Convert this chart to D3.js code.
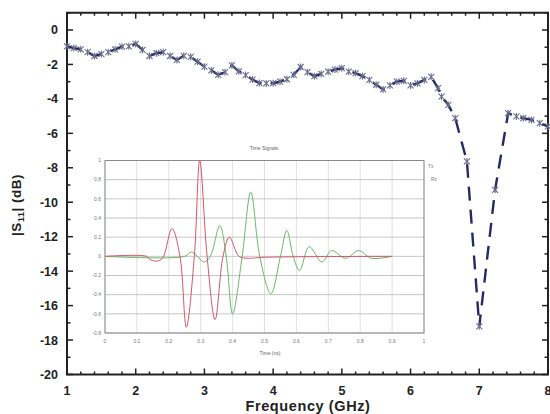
<!DOCTYPE html>
<html>
<head>
<meta charset="utf-8">
<script src="https://cdn.jsdelivr.net/npm/d3@7"></script>
<style>
  body { margin: 0; background: #fff; }
  svg { display: block; font-family: "Liberation Sans", Arial, sans-serif; }
</style>
</head>
<body>
<svg id="chart" width="550" height="414"></svg>
<script>
// main curve: |S11| vs frequency
const freq = [1.0, 1.1, 1.2, 1.3, 1.4, 1.5, 1.6, 1.7, 1.8, 1.9, 2.0, 2.1, 2.2, 2.3, 2.4, 2.5,
  2.6, 2.7, 2.8, 2.9, 3.0, 3.1, 3.2, 3.3, 3.4, 3.5, 3.6, 3.7, 3.8, 3.9, 4.0, 4.1, 4.2, 4.3,
  4.4, 4.5, 4.6, 4.7, 4.8, 4.9, 5.0, 5.1, 5.2, 5.3, 5.4, 5.5, 5.6, 5.7, 5.8, 5.9, 6.0, 6.1,
  6.2, 6.3, 6.4, 6.45, 6.55, 6.65, 6.82, 7.0, 7.23, 7.42, 7.54, 7.64, 7.76, 7.88, 8.0];
const s11 = [-0.95, -1.05, -1.12, -1.29, -1.51, -1.40, -1.29, -1.12, -0.97, -0.95, -0.81, -1.16,
  -1.51, -1.35, -1.29, -1.51, -1.74, -1.50, -1.56, -1.84, -2.13, -2.35, -2.60, -2.45, -2.05,
  -2.40, -2.62, -2.88, -3.08, -3.10, -3.09, -3.00, -2.86, -2.60, -2.15, -2.45, -2.68, -2.55,
  -2.42, -2.30, -2.22, -2.42, -2.50, -2.68, -2.90, -3.18, -3.45, -3.22, -3.00, -2.95, -3.22,
  -3.10, -2.90, -2.72, -3.38, -3.87, -4.35, -5.12, -7.63, -17.2, -9.28, -4.83, -5.02, -5.12,
  -5.22, -5.41, -5.60];

// inset: time signals (normalised)
const txTime = [0, 0.13, 0.14, 0.16, 0.18, 0.21, 0.235, 0.255, 0.28, 0.297, 0.32, 0.345, 0.37,
  0.39, 0.42, 0.45, 0.5, 0.9];
const txAmp = [0, 0, -0.03, -0.05, -0.02, 0.29, 0, -0.74, 0, 1.0, 0, -0.66, 0, 0.2, 0, -0.02,
  -0.01, 0];
const rxTime = [0, 0.25, 0.27, 0.29, 0.31, 0.33, 0.36, 0.38, 0.40, 0.43, 0.457, 0.485, 0.52,
  0.55, 0.57, 0.59, 0.61, 0.64, 0.68, 0.71, 0.755, 0.795, 0.835, 0.9];
const rxAmp = [0, 0, 0.045, 0, -0.06, 0, 0.32, 0, -0.6, 0, 0.67, 0, -0.39, 0, 0.27, 0, -0.15,
  0.1, -0.06, 0.06, -0.02, 0.06, -0.02, 0];

const insetYTicks = [1, 0.8, 0.6, 0.4, 0.2, 0, -0.2, -0.4, -0.6, -0.8];
const insetXTicks = [0, 0.1, 0.2, 0.3, 0.4, 0.5, 0.6, 0.7, 0.8, 0.9, 1];

const svg = d3.select("#chart");
const m = {left: 67, right: 548, top: 12.75, bottom: 374.5};

const x = d3.scaleLinear([1, 8], [m.left, m.right]);
const y = d3.scaleLinear([-20, 1], [m.bottom, m.top]);

// ---- inset
const ins = {left: 105, right: 424, top: 160.5, bottom: 333};
const ix = d3.scaleLinear([0, 1], [ins.left, ins.right]);
const iy = d3.scaleLinear([-0.8, 1], [ins.bottom, ins.top]);
const gi = svg.append("g");

gi.append("rect")
  .attr("x", ins.left).attr("y", ins.top)
  .attr("width", ins.right - ins.left).attr("height", ins.bottom - ins.top)
  .attr("fill", "#fff");

gi.append("g").selectAll("line")
  .data(insetXTicks)
  .join("line")
  .attr("x1", d => ix(d)).attr("x2", d => ix(d))
  .attr("y1", ins.top).attr("y2", ins.bottom)
  .attr("stroke", (d, i) => i % 2 ? "#e6cfd2" : "#d3ddd3")
  .attr("stroke-width", 0.8);

gi.append("g").selectAll("line")
  .data(insetYTicks)
  .join("line")
  .attr("x1", ins.left).attr("x2", ins.right)
  .attr("y1", d => iy(d)).attr("y2", d => iy(d))
  .attr("stroke", "#b8b8b8")
  .attr("stroke-width", 0.8);

gi.append("rect")
  .attr("x", ins.left).attr("y", ins.top)
  .attr("width", ins.right - ins.left).attr("height", ins.bottom - ins.top)
  .attr("fill", "none").attr("stroke", "#8a8a8a").attr("stroke-width", 1);

const iline = d3.line().x(d => ix(d[0])).y(d => iy(d[1])).curve(d3.curveCatmullRom);

gi.append("path")
  .datum(d3.zip(rxTime, rxAmp))
  .attr("d", iline)
  .attr("fill", "none").attr("stroke", "#6ab86a").attr("stroke-width", 1);

gi.append("path")
  .datum(d3.zip(txTime, txAmp))
  .attr("d", iline)
  .attr("fill", "none").attr("stroke", "#d4566a").attr("stroke-width", 1);

gi.append("g").selectAll("text")
  .data(insetYTicks)
  .join("text")
  .attr("x", ins.left - 4).attr("y", d => iy(d) + 1.8)
  .attr("text-anchor", "end")
  .attr("font-size", 5).attr("fill", "#777")
  .text(d => d);

gi.append("g").selectAll("text")
  .data(insetXTicks)
  .join("text")
  .attr("x", d => ix(d)).attr("y", ins.bottom + 10)
  .attr("text-anchor", "middle")
  .attr("font-size", 5).attr("fill", "#777")
  .text(d => d);

gi.append("text")
  .attr("x", 264).attr("y", 150)
  .attr("text-anchor", "middle").attr("font-size", 5).attr("fill", "#666")
  .text("Time Signals");

gi.append("text")
  .attr("x", 270).attr("y", 355)
  .attr("text-anchor", "middle").attr("font-size", 5).attr("fill", "#666")
  .text("Time (ns)");

gi.append("text").attr("x", 428).attr("y", 168).attr("font-size", 5).attr("fill", "#777")
  .text("Tx");
gi.append("text").attr("x", 431).attr("y", 181).attr("font-size", 5).attr("fill", "#777")
  .text("Rx");

// ---- main frame and ticks
const gf = svg.append("g");
gf.append("rect")
  .attr("x", m.left).attr("y", m.top)
  .attr("width", m.right - m.left).attr("height", m.bottom - m.top)
  .attr("fill", "none").attr("stroke", "#222").attr("stroke-width", 2);

const xMinor = d3.range(1, 8.001, 0.2);
const yMinor = d3.range(-20, 1.001, 1);

// bottom & top ticks (inward)
[[m.bottom, -1], [m.top, 1]].forEach(([yy, dir]) => {
  gf.append("g").selectAll("line")
    .data(xMinor)
    .join("line")
    .attr("x1", d => x(d)).attr("x2", d => x(d))
    .attr("y1", yy)
    .attr("y2", d => yy + dir * (Math.abs(d - Math.round(d)) < 1e-6 ? 6 : 3))
    .attr("stroke", "#222").attr("stroke-width", 1.5);
});

// left & right ticks (inward)
[[m.left, 1], [m.right, -1]].forEach(([xx, dir]) => {
  gf.append("g").selectAll("line")
    .data(yMinor)
    .join("line")
    .attr("y1", d => y(d)).attr("y2", d => y(d))
    .attr("x1", xx)
    .attr("x2", d => xx + dir * (d % 2 === 0 ? 6 : 3.5))
    .attr("stroke", "#222").attr("stroke-width", 1.5);
});

gf.append("g").selectAll("text")
  .data(d3.range(-20, 1, 2))
  .join("text")
  .attr("x", m.left - 9).attr("y", d => y(d) + 4.5)
  .attr("text-anchor", "end")
  .attr("font-size", 12.5).attr("font-weight", "bold").attr("fill", "#222")
  .text(d => d);

gf.append("g").selectAll("text")
  .data(d3.range(1, 9))
  .join("text")
  .attr("x", d => x(d)).attr("y", m.bottom + 20)
  .attr("text-anchor", "middle")
  .attr("font-size", 12.5).attr("font-weight", "bold").attr("fill", "#222")
  .text(d => d);

gf.append("text")
  .attr("x", 308).attr("y", 411)
  .attr("text-anchor", "middle")
  .attr("font-size", 14.5).attr("font-weight", "bold").attr("fill", "#222")
  .attr("letter-spacing", 0.6)
  .text("Frequency (GHz)");

const yt = gf.append("text")
  .attr("transform", "translate(21,205) rotate(-90)")
  .attr("text-anchor", "middle")
  .attr("font-size", 13.5).attr("font-weight", "bold").attr("fill", "#222")
  .attr("letter-spacing", 0.5);
yt.append("tspan").text("|S");
yt.append("tspan").attr("font-size", 9).attr("dy", 3).text("11");
yt.append("tspan").attr("dy", -3).text("| (dB)");

// ---- main curve
const line = d3.line().x((d, i) => x(freq[i])).y(d => y(d));
svg.append("path")
  .datum(s11)
  .attr("d", line)
  .attr("fill", "none")
  .attr("stroke", "#262a64")
  .attr("stroke-width", 2.4)
  .attr("stroke-dasharray", "14,9");

svg.append("g").selectAll("path")
  .data(s11)
  .join("path")
  .attr("transform", (d, i) => `translate(${x(freq[i])},${y(d)})`)
  .attr("d", "M-3,-3L3,3M-3,3L3,-3M0,-3.5L0,3.5")
  .attr("fill", "none")
  .attr("stroke", "#6a6d8c")
  .attr("stroke-width", 1.1);
</script>
</body>
</html>
